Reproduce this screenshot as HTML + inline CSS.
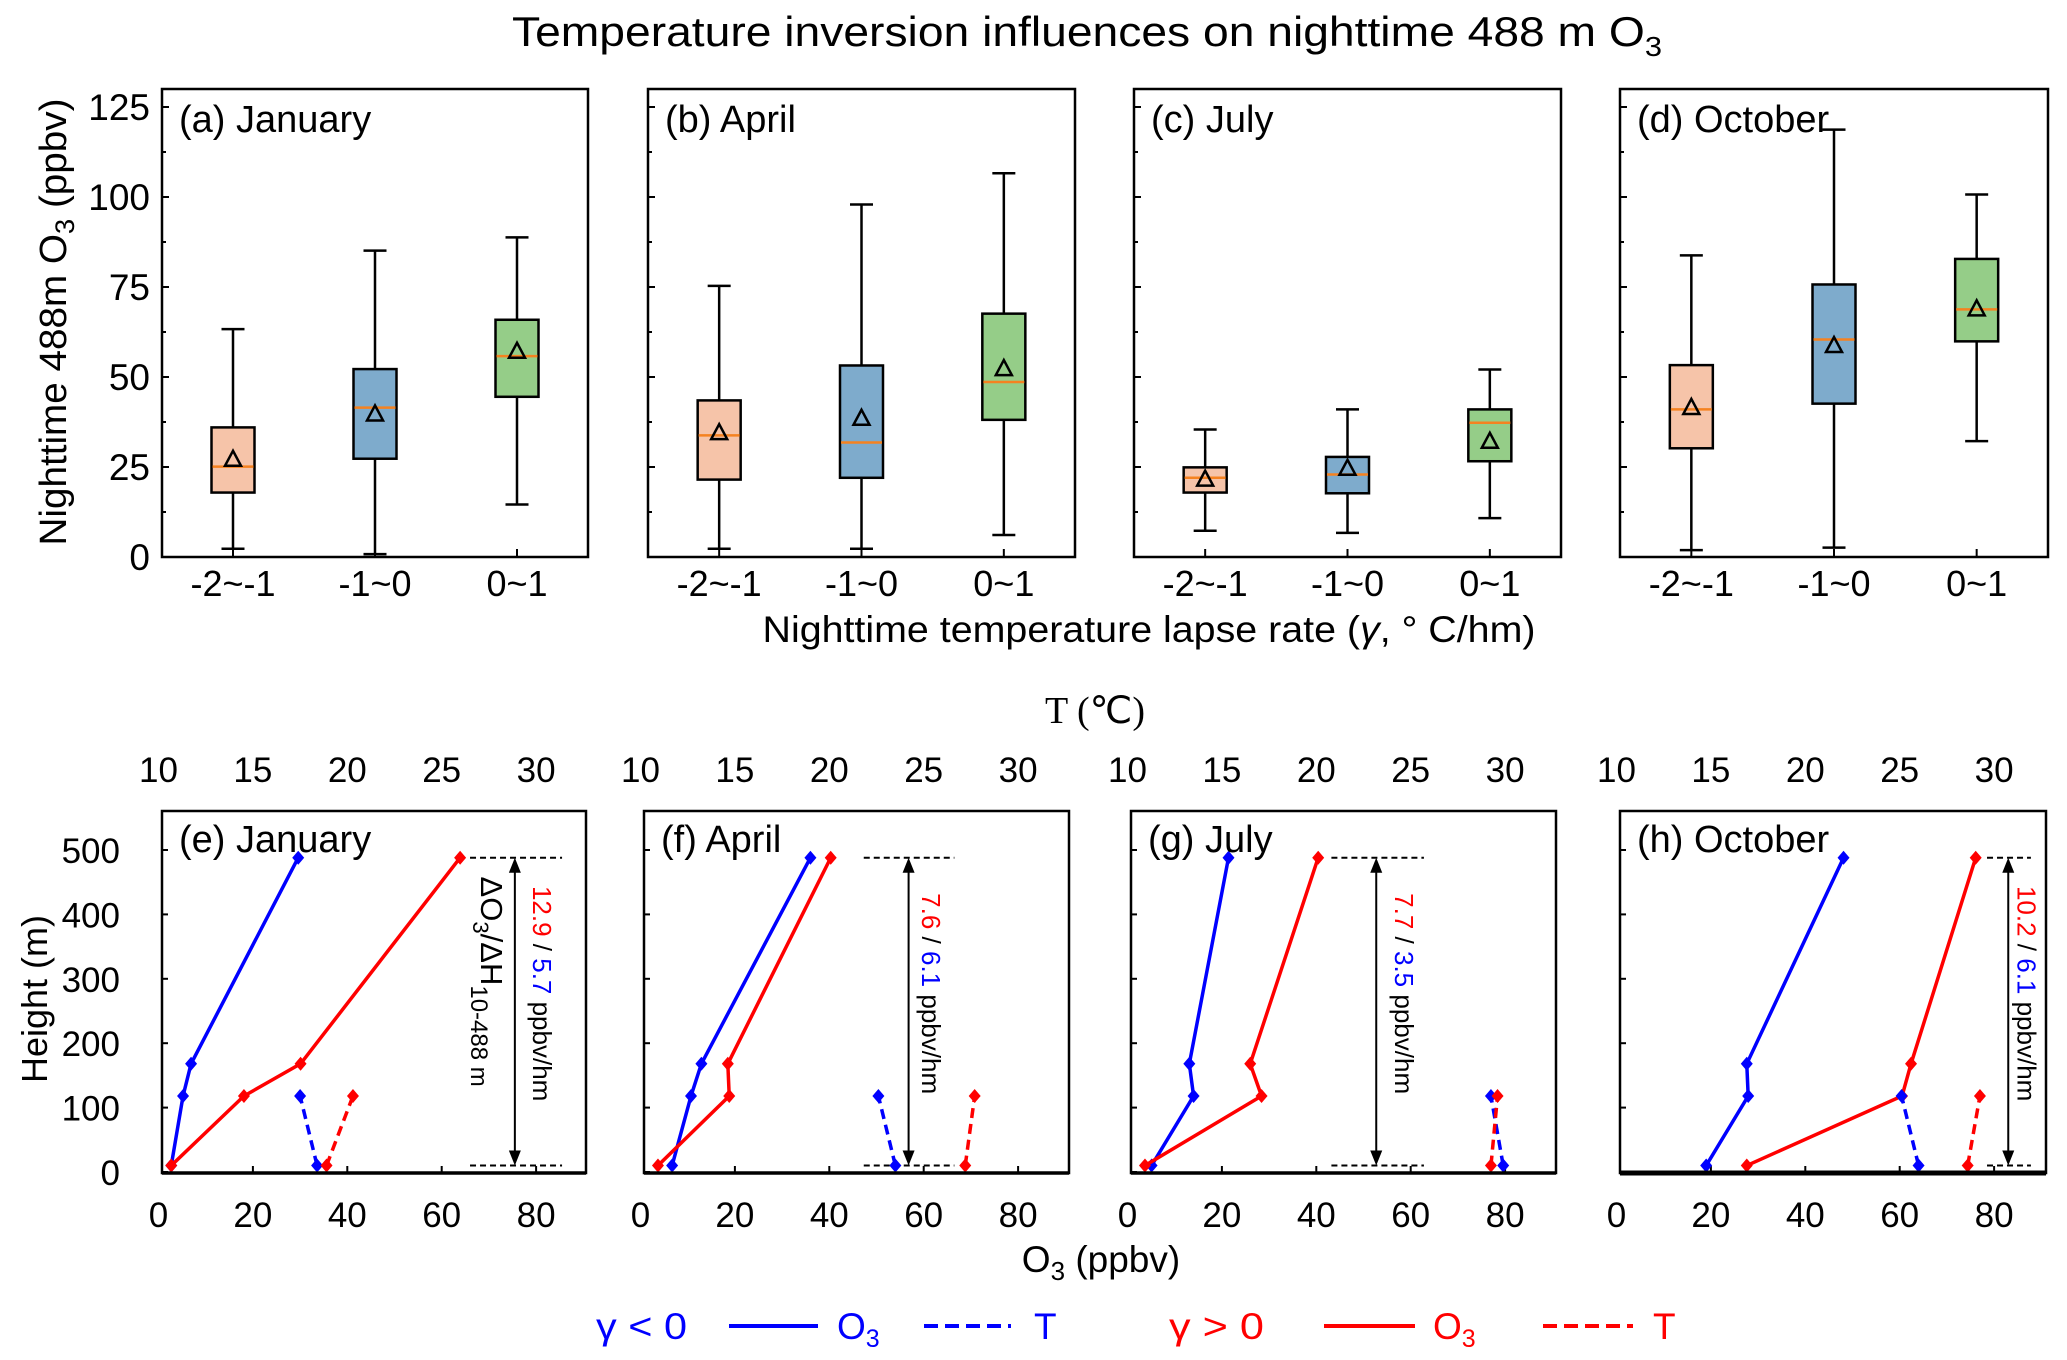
<!DOCTYPE html>
<html><head><meta charset="utf-8"><style>
html,body{margin:0;padding:0;background:#fff;}
svg{display:block;font-family:"Liberation Sans",Arial,sans-serif;}
</style></head><body>
<svg id="chart" width="2067" height="1360" viewBox="0 0 2067 1360" xmlns="http://www.w3.org/2000/svg">
<text x="1087" y="46" font-size="42" text-anchor="middle" textLength="1150" lengthAdjust="spacingAndGlyphs">Temperature inversion influences on nighttime 488 m O<tspan font-size="28" dy="10">3</tspan></text>
<text transform="translate(66,322) rotate(-90)" font-size="38" text-anchor="middle" textLength="447" lengthAdjust="spacingAndGlyphs">Nighttime 488m O<tspan font-size="27" dy="8">3</tspan><tspan dy="-8"> (ppbv)</tspan></text>
<text x="1149" y="642" font-size="37" text-anchor="middle" textLength="773" lengthAdjust="spacingAndGlyphs">Nighttime temperature lapse rate (<tspan font-style="italic">γ</tspan>,  ° C/hm)</text>
<text x="1095" y="723" font-size="38" text-anchor="middle" font-family="Liberation Serif, serif">T (℃)</text>
<text x="1101" y="1272" font-size="37" text-anchor="middle">O<tspan font-size="26" dy="8">3</tspan><tspan dy="-8"> (ppbv)</tspan></text>
<text transform="translate(47,999) rotate(-90)" font-size="36" text-anchor="middle">Height (m)</text>
<g id="top"></g>
<g id="bottom"></g>
<g id="legend" font-size="37">
<text x="596" y="1339" fill="#0000ff" textLength="91" lengthAdjust="spacingAndGlyphs">γ &lt; 0</text>
<line x1="729" y1="1326" x2="818" y2="1326" stroke="#0000ff" stroke-width="4"/>
<text x="837" y="1339" fill="#0000ff">O<tspan font-size="25" dy="8">3</tspan></text>
<line x1="924" y1="1326" x2="1011" y2="1326" stroke="#0000ff" stroke-width="4" stroke-dasharray="14,7"/>
<text x="1034" y="1339" fill="#0000ff">T</text>
<text x="1169" y="1339" fill="#ff0000" textLength="95" lengthAdjust="spacingAndGlyphs">γ &gt; 0</text>
<line x1="1324" y1="1326" x2="1415" y2="1326" stroke="#ff0000" stroke-width="4"/>
<text x="1433" y="1339" fill="#ff0000">O<tspan font-size="25" dy="8">3</tspan></text>
<line x1="1543" y1="1326" x2="1633" y2="1326" stroke="#ff0000" stroke-width="4" stroke-dasharray="14,7"/>
<text x="1653" y="1339" fill="#ff0000">T</text>
</g>
</svg>
<script>
// ---- Box plot data (ppbv) ----
const boxPanelLabels = ["(a) January", "(b) April", "(c) July", "(d) October"];
const categories = ["-2~-1", "-1~0", "0~1"];
const whiskerLow = [[2.3, 0.8, 14.6], [2.3, 2.3, 6.1], [7.3, 6.7, 10.8], [1.9, 2.6, 32.2]];
const q1 = [[17.9, 27.3, 44.5], [21.5, 22.0, 38.1], [17.9, 17.7, 26.6], [30.2, 42.6, 59.9]];
const median = [[25.1, 41.5, 55.8], [33.8, 31.8, 48.6], [22.0, 22.9, 37.3], [41.0, 60.4, 68.8]];
const q3 = [[36.0, 52.2, 65.9], [43.5, 53.2, 67.6], [24.9, 27.8, 41.0], [53.3, 75.7, 82.8]];
const whiskerHigh = [[63.3, 85.1, 88.8], [75.3, 97.9, 106.6], [35.4, 41.0, 52.1], [83.8, 118.7, 100.7]];
const means = [[27.0, 39.6, 57.0], [34.4, 38.4, 52.2], [21.5, 24.5, 32.0], [41.4, 58.6, 68.8]];
const yTicksTop = [0, 25, 50, 75, 100, 125];

// ---- Profile data ----
const profPanelLabels = ["(e) January", "(f) April", "(g) July", "(h) October"];
const heights = [10, 118, 168, 488];
const o3Neg = [[2.7, 5.2, 6.9, 29.6], [6.7, 10.7, 12.9, 36.0], [5.1, 14.0, 13.1, 21.4], [19.0, 27.9, 27.6, 48.1]];
const o3Pos = [[2.7, 18.1, 30.1, 63.9], [3.7, 18.8, 18.5, 40.3], [3.7, 28.4, 26.0, 40.4], [27.6, 60.5, 62.4, 76.1]];
const tHeights = [10, 118];
const tNeg = [[18.4, 17.5], [23.5, 22.6], [29.9, 29.25], [26.0, 25.1]];
const tPos = [[18.9, 20.3], [27.2, 27.7], [29.25, 29.6], [28.6, 29.25]];
const rateRed = ["12.9", "7.6", "7.7", "10.2"];
const rateBlue = ["5.7", "6.1", "3.5", "6.1"];
const o3Ticks = [0, 20, 40, 60, 80];
const tTicks = [10, 15, 20, 25, 30];
const hTicks = [0, 100, 200, 300, 400, 500];

const NS = "http://www.w3.org/2000/svg";
function mk(parent, tag, attrs, text) {
  const e = document.createElementNS(NS, tag);
  for (const k in attrs) e.setAttribute(k, attrs[k]);
  if (text !== undefined) e.textContent = text;
  parent.appendChild(e);
  return e;
}
const fills = ["#f6c4a9", "#7eabcc", "#95cd88"];

// ---- Top box panels ----
const topG = document.getElementById("top");
const topFrames = [[162, 588], [648, 1075], [1134, 1561], [1620, 2048]];
const T0 = 89, B0 = 557, YMAX = 130;
function yTop(v) { return B0 - v / YMAX * (B0 - T0); }
topFrames.forEach((f, p) => {
  const g = mk(topG, "g", {});
  
  
  const w = f[1] - f[0];
  const xPos = i => f[0] + (i + 0.5) / 3 * w;
  for (let v = 0; v <= 125; v += 12.5) {
    const major = v % 25 === 0;
    const tk = mk(g, "line", { x1: f[0], x2: f[0] + (major ? 7 : 4), y1: yTop(v), y2: yTop(v), stroke: "#000", "stroke-width": 2 });
    
    
  }
  if (p === 0) {
    yTicksTop.forEach(v => {
      const t = mk(g, "text", { x: 150, y: yTop(v) + 13, "font-size": 37, "text-anchor": "end" }, String(v));
      
      
    });
  }
  categories.forEach((c, i) => {
    const x = xPos(i);
    const tk = mk(g, "line", { x1: x, x2: x, y1: B0, y2: B0 - 8, stroke: "#000", "stroke-width": 2 });
    
    
    const tl = mk(g, "text", { x: x, y: 596, "font-size": 36, "text-anchor": "middle" }, c);
    
    
    const bw = 43, cw = 23;
    const wl = mk(g, "line", { x1: x, x2: x, y1: yTop(whiskerLow[p][i]), y2: yTop(whiskerHigh[p][i]), stroke: "#000", "stroke-width": 2.5 });
    
    
    [whiskerLow[p][i], whiskerHigh[p][i]].forEach(v => {
      const cap = mk(g, "line", { x1: x - cw / 2, x2: x + cw / 2, y1: yTop(v), y2: yTop(v), stroke: "#000", "stroke-width": 2.5 });
      
      
    });
    const box = mk(g, "rect", { x: x - bw / 2, y: yTop(q3[p][i]), width: bw, height: yTop(q1[p][i]) - yTop(q3[p][i]), fill: fills[i], stroke: "#000", "stroke-width": 2.5 });
    
    
    const md = mk(g, "line", { x1: x - bw / 2 + 1, x2: x + bw / 2 - 1, y1: yTop(median[p][i]), y2: yTop(median[p][i]), stroke: "#f58220", "stroke-width": 2.5 });
    
    
    const my = yTop(means[p][i]);
    const tri = mk(g, "polygon", { points: `${x},${my - 9} ${x - 8},${my + 6} ${x + 8},${my + 6}`, fill: "none", stroke: "#000", "stroke-width": 2.5 });
    
    
  });
  const fr = mk(g, "rect", { x: f[0], y: T0, width: w, height: B0 - T0, fill: "none", stroke: "#000", "stroke-width": 2.5 });
  
  
  const lb = mk(g, "text", { x: f[0] + 17, y: 132, "font-size": 38 }, boxPanelLabels[p]);
  
  
});

// ---- Bottom profile panels ----
const botG = document.getElementById("bottom");
const botFrames = [[162, 586], [644, 1069], [1131, 1556], [1620, 2046]];
const annot = [[66, 85.5, 75.5, 81.2, 70.4], [47.3, 66.5, 56.8, 61.5], [43.2, 62.8, 52.7, 58.6], [78.5, 87.8, 83, 86.9]];
const T1 = 811, B1 = 1173;
function yH(h) { return 1172 - h * 0.644; }
function diamond(g, x, y, col, name) {
  const d = mk(g, "polygon", { points: `${x},${y - 7} ${x + 6},${y} ${x},${y + 7} ${x - 6},${y}`, fill: col });
  
  
}
botFrames.forEach((f, p) => {
  const g = mk(botG, "g", {});
  
  
  const xO = v => f[0] - 3.5 + v * 4.72;
  const xT = t => xO((t - 10) * 4);
  o3Ticks.forEach(v => {
    if (v > 0) {
      const tk = mk(g, "line", { x1: xO(v), x2: xO(v), y1: B1, y2: B1 - 7, stroke: "#000", "stroke-width": 2 });
      
      
    }
    const tl = mk(g, "text", { x: xO(v), y: 1227, "font-size": 35, "text-anchor": "middle" }, String(v));
    
    
  });
  tTicks.forEach(t => {
    const tl = mk(g, "text", { x: xT(t), y: 782, "font-size": 35, "text-anchor": "middle" }, String(t));
    
    
  });
  hTicks.forEach(h => {
    const tk = mk(g, "line", { x1: f[0], x2: f[0] + 6, y1: yH(h), y2: yH(h), stroke: "#000", "stroke-width": 2 });
    
    
    if (p === 0) {
      const tl = mk(g, "text", { x: 120, y: yH(h) + 13, "font-size": 35, "text-anchor": "end" }, String(h));
      
      
    }
  });
  const a = annot[p];
  [488, 10].forEach(h => {
    const dl = mk(g, "line", { x1: xO(a[0]), x2: xO(a[1]), y1: yH(h), y2: yH(h), stroke: "#000", "stroke-width": 2, "stroke-dasharray": "6,4" });
    
    
  });
  const ax = xO(a[2]), ay1 = yH(488), ay2 = yH(10);
  const ar = mk(g, "line", { x1: ax, x2: ax, y1: ay1 + 4, y2: ay2 - 4, stroke: "#000", "stroke-width": 2 });
  
  
  const h1 = mk(g, "polygon", { points: `${ax},${ay1} ${ax - 6},${ay1 + 15} ${ax + 6},${ay1 + 15}`, fill: "#000" });
  
  
  const h2 = mk(g, "polygon", { points: `${ax},${ay2} ${ax - 6},${ay2 - 15} ${ax + 6},${ay2 - 15}`, fill: "#000" });
  
  
  const rt = mk(g, "text", { transform: `translate(${xO(a[3]) - 9},${(ay1 + ay2) / 2 - 18}) rotate(90)`, "font-size": 26, "text-anchor": "middle" });
  
  
  mk(rt, "tspan", { fill: "#ff0000" }, rateRed[p]);
  mk(rt, "tspan", { fill: "#000" }, " / ");
  mk(rt, "tspan", { fill: "#0000ff" }, rateBlue[p]);
  mk(rt, "tspan", { fill: "#000" }, " ppbv/hm");
  if (p === 0) {
    const dt = mk(g, "text", { transform: `translate(${xO(a[4]) - 10},${(ay1 + ay2) / 2 - 30}) rotate(90)`, "font-size": 31, "text-anchor": "middle" });
    
    
    dt.appendChild(document.createTextNode("ΔO"));
    mk(dt, "tspan", { "font-size": 22, dy: 8 }, "3");
    mk(dt, "tspan", { dy: -8 }, "/ΔH");
    mk(dt, "tspan", { "font-size": 24, dy: 10 }, "10-488 m");
  }
  const series = [
    [o3Neg[p], heights, "#0000ff", null, "o3-negative", v => xO(v)],
    [o3Pos[p], heights, "#ff0000", null, "o3-positive", v => xO(v)],
    [tNeg[p], tHeights, "#0000ff", "10,6", "t-negative", v => xT(v)],
    [tPos[p], tHeights, "#ff0000", "10,6", "t-positive", v => xT(v)]
  ];
  series.forEach(s => {
    const pts = s[0].map((v, i) => s[5](v) + "," + yH(s[1][i])).join(" ");
    const attrs = { points: pts, fill: "none", stroke: s[2], "stroke-width": 3.5 };
    if (s[3]) attrs["stroke-dasharray"] = s[3];
    const pl = mk(g, "polyline", attrs);
    
    
    s[0].forEach((v, i) => diamond(g, s[5](v), yH(s[1][i]), s[2], s[4] + '-point'));
  });
  const fr = mk(g, "rect", { x: f[0], y: T1, width: f[1] - f[0], height: B1 - T1, fill: "none", stroke: "#000", "stroke-width": 2.5 });
  
  
  const bl = mk(g, "line", { x1: f[0], x2: f[1], y1: B1, y2: B1, stroke: "#000", "stroke-width": p === 3 ? 5 : 3.5 });
  
  
  const lb = mk(g, "text", { x: f[0] + 17, y: 852, "font-size": 38 }, profPanelLabels[p]);
  
  
});
</script>
</body></html>
